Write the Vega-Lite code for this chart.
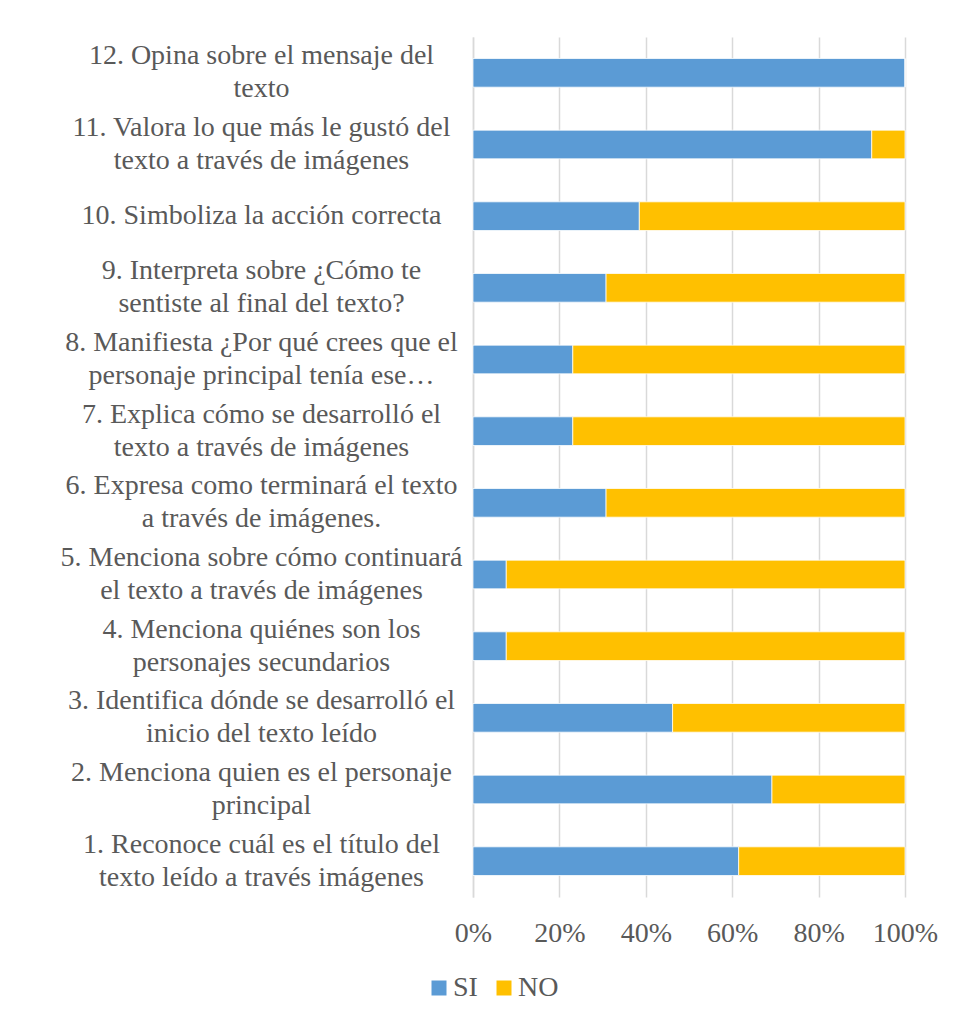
{
  "$schema": "https://vega.github.io/schema/vega-lite/v6.json",
  "width": 432,
  "height": 860,
  "autosize": {"type": "none"},
  "padding": {"left": 473, "top": 37, "right": 55, "bottom": 126},
  "background": "white",
  "config": {
    "view": {"stroke": null},
    "font": "Liberation Serif"
  },
  "data": {
    "values": [
      {"item": 12, "label": "12. Opina sobre el mensaje del\ntexto", "resp": "SI", "pct": 100},
      {"item": 12, "label": "12. Opina sobre el mensaje del\ntexto", "resp": "NO", "pct": 0},
      {"item": 11, "label": "11. Valora lo que más le gustó del\ntexto a través de imágenes", "resp": "SI", "pct": 92.3},
      {"item": 11, "label": "11. Valora lo que más le gustó del\ntexto a través de imágenes", "resp": "NO", "pct": 7.7},
      {"item": 10, "label": "10. Simboliza la acción correcta", "resp": "SI", "pct": 38.5},
      {"item": 10, "label": "10. Simboliza la acción correcta", "resp": "NO", "pct": 61.5},
      {"item": 9, "label": "9. Interpreta sobre ¿Cómo te\nsentiste al final del texto?", "resp": "SI", "pct": 30.8},
      {"item": 9, "label": "9. Interpreta sobre ¿Cómo te\nsentiste al final del texto?", "resp": "NO", "pct": 69.2},
      {"item": 8, "label": "8. Manifiesta ¿Por qué crees que el\npersonaje principal tenía ese…", "resp": "SI", "pct": 23.1},
      {"item": 8, "label": "8. Manifiesta ¿Por qué crees que el\npersonaje principal tenía ese…", "resp": "NO", "pct": 76.9},
      {"item": 7, "label": "7. Explica cómo se desarrolló el\ntexto a través de imágenes", "resp": "SI", "pct": 23.1},
      {"item": 7, "label": "7. Explica cómo se desarrolló el\ntexto a través de imágenes", "resp": "NO", "pct": 76.9},
      {"item": 6, "label": "6. Expresa como terminará el texto\na través de imágenes.", "resp": "SI", "pct": 30.8},
      {"item": 6, "label": "6. Expresa como terminará el texto\na través de imágenes.", "resp": "NO", "pct": 69.2},
      {"item": 5, "label": "5. Menciona sobre cómo continuará\nel texto a través de imágenes", "resp": "SI", "pct": 7.7},
      {"item": 5, "label": "5. Menciona sobre cómo continuará\nel texto a través de imágenes", "resp": "NO", "pct": 92.3},
      {"item": 4, "label": "4. Menciona quiénes son los\npersonajes secundarios", "resp": "SI", "pct": 7.7},
      {"item": 4, "label": "4. Menciona quiénes son los\npersonajes secundarios", "resp": "NO", "pct": 92.3},
      {"item": 3, "label": "3. Identifica dónde se desarrolló el\ninicio del texto leído", "resp": "SI", "pct": 46.2},
      {"item": 3, "label": "3. Identifica dónde se desarrolló el\ninicio del texto leído", "resp": "NO", "pct": 53.8},
      {"item": 2, "label": "2. Menciona quien es el personaje\nprincipal", "resp": "SI", "pct": 69.2},
      {"item": 2, "label": "2. Menciona quien es el personaje\nprincipal", "resp": "NO", "pct": 30.8},
      {"item": 1, "label": "1. Reconoce cuál es el título del\ntexto leído a través imágenes", "resp": "SI", "pct": 61.5},
      {"item": 1, "label": "1. Reconoce cuál es el título del\ntexto leído a través imágenes", "resp": "NO", "pct": 38.5}
    ]
  },
  "mark": {"type": "bar", "stroke": "white", "strokeWidth": 0.75},
  "encoding": {
    "y": {
      "field": "label",
      "type": "nominal",
      "sort": {"field": "item", "op": "min", "order": "descending"},
      "scale": {"paddingInner": 0.6, "paddingOuter": 0.3},
      "axis": {
        "title": null,
        "ticks": false,
        "domainColor": "#D9D9D9",
        "domainWidth": 1.5,
        "labelAlign": "center",
        "labelBaseline": "middle",
        "labelPadding": 212,
        "labelOffset": {"condition": {"test": "indexof(datum.label, '\\n') >= 0", "value": -16.5}, "value": 0},
        "labelLimit": 600,
        "labelFont": "Liberation Serif",
        "labelFontSize": 28,
        "labelLineHeight": 33,
        "labelColor": "#595959",
        "labelExpr": "split(datum.label, '\\n')"
      }
    },
    "x": {
      "field": "pct",
      "type": "quantitative",
      "stack": "normalize",
      "scale": {"domain": [0, 1], "nice": false},
      "axis": {
        "title": null,
        "values": [0, 0.2, 0.4, 0.6, 0.8, 1],
        "format": ".0%",
        "grid": true,
        "gridColor": "#D9D9D9",
        "gridWidth": 1.5,
        "domain": false,
        "ticks": false,
        "labelFont": "Liberation Serif",
        "labelFontSize": 28,
        "labelColor": "#595959",
        "labelPadding": 22,
        "labelFlush": false
      }
    },
    "color": {
      "field": "resp",
      "type": "nominal",
      "scale": {"domain": ["SI", "NO"], "range": ["#5B9BD5", "#FFC000"]},
      "legend": {
        "title": null,
        "orient": "none",
        "direction": "horizontal",
        "legendX": -48,
        "legendY": 937,
        "symbolType": "square",
        "symbolSize": 225,
        "symbolStrokeWidth": 0,
        "labelFont": "Liberation Serif",
        "labelFontSize": 28,
        "labelColor": "#595959",
        "labelOffset": 0,
        "columnPadding": 12
      }
    },
    "order": {"field": "resp", "sort": "descending"}
  }
}
